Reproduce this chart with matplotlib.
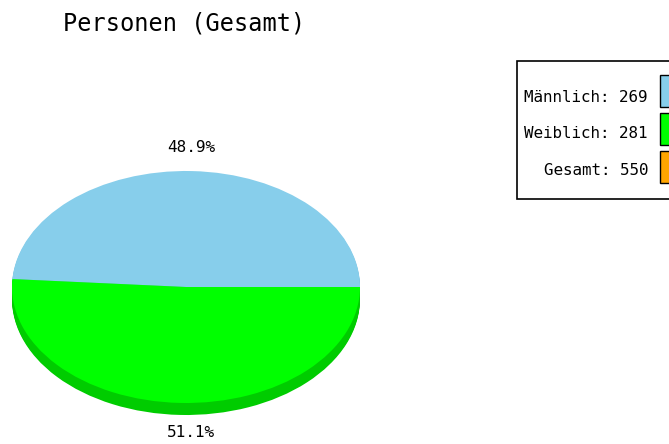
import matplotlib
matplotlib.use('Agg')
import matplotlib.pyplot as plt
from matplotlib.patches import Rectangle

TITLE = 'Personen (Gesamt)'
LABELS = ['Männlich', 'Weiblich', 'Gesamt']
COUNTS = [269, 281, 550]
COLORS = ['#87ceeb', '#00ff00', '#ffa500']
SIDE_COLORS = ['#6fb3cf', '#00cc00']
PIE_VALUES = COUNTS[:2]

W, H = 669, 444
FONT = 'DejaVu Sans Mono'


def main():
    fig = plt.figure(figsize=(W / 100, H / 100), dpi=100)

    # pie area in pixels: ellipse from x=12..360, top 171, face bottom 403, depth 12
    left, right, top, bottom = 12, 360, 171, 415
    ax = fig.add_axes([left / W, (H - bottom) / H, (right - left) / W, (bottom - top) / H])
    ry = (403 - top) / 2
    depth = (bottom - 403) / ry

    # side of the 3d pie, then the top face
    for k in range(12, 0, -1):
        ax.pie(PIE_VALUES, colors=SIDE_COLORS, startangle=0, counterclock=True,
               center=(0, -depth * k / 12), radius=1, frame=True,
               wedgeprops=dict(linewidth=0))
    ax.pie(PIE_VALUES, colors=COLORS[:2], startangle=0, counterclock=True,
           center=(0, 0), radius=1, frame=True, wedgeprops=dict(linewidth=0))
    ax.set_aspect('auto')
    ax.set_xlim(-1, 1)
    ax.set_ylim(-1 - depth, 1)
    ax.axis('off')

    total = sum(PIE_VALUES)
    pcts = [v / total * 100 for v in PIE_VALUES]
    ax.text(0.03, 1.2, '%.1f%%' % pcts[0], ha='center', va='center',
            family=FONT, fontsize=11.5, clip_on=False)
    ax.text(0.03, -1 - depth - 0.15, '%.1f%%' % pcts[1], ha='center', va='center',
            family=FONT, fontsize=11.5, clip_on=False)

    # overlay in pixel coordinates for title and legend
    ov = fig.add_axes([0, 0, 1, 1], zorder=5)
    ov.set_xlim(0, W)
    ov.set_ylim(H, 0)
    ov.axis('off')
    ov.patch.set_alpha(0)

    ov.text(63, 23, TITLE, ha='left', va='center', family=FONT, fontsize=17)

    ov.add_patch(Rectangle((516.5, 61), 170, 138, facecolor='white',
                           edgecolor='black', linewidth=1.2))
    text_rows = [97, 133, 170]
    box_rows = [91.5, 129, 167]
    for ty, by, lab, n, c in zip(text_rows, box_rows, LABELS, COUNTS, COLORS):
        ov.text(648, ty, '%s: %d' % (lab, n), ha='right', va='center',
                family=FONT, fontsize=11.4)
        ov.add_patch(Rectangle((660, by - 16), 30, 32, facecolor=c,
                               edgecolor='black', linewidth=1))

    fig.savefig('out.png', dpi=100)


if __name__ == '__main__':
    main()
